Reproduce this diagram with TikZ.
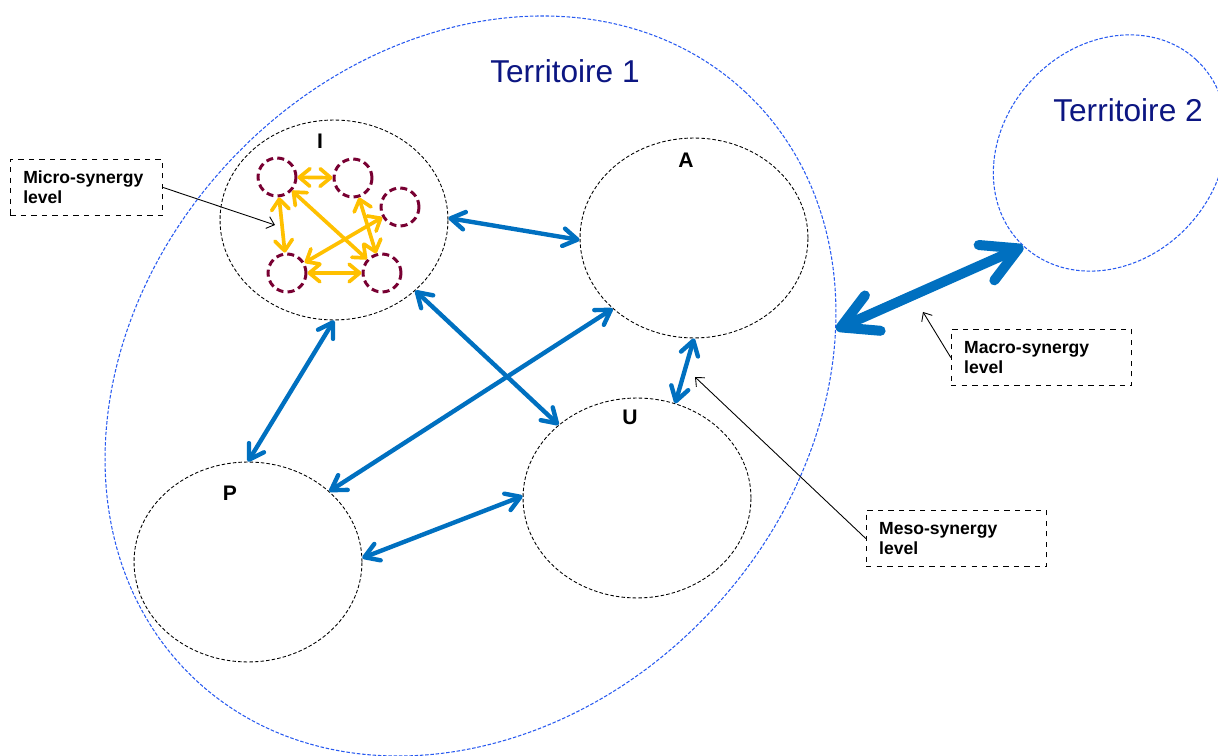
\documentclass[tikz,border=0pt]{standalone}
\usepackage{fontspec}
\setmainfont{Liberation Sans}
\usetikzlibrary{shapes.geometric, arrows.meta, positioning}
\definecolor{terrblue}{RGB}{40,90,240}
\definecolor{terrnavy}{RGB}{12,22,130}
\definecolor{linkblue}{RGB}{0,112,192}
\definecolor{linkgold}{RGB}{255,192,0}
\definecolor{actorred}{RGB}{120,0,50}

\begin{document}
\begin{tikzpicture}[
  x=0.02cm, y=-0.02cm,
  territory/.style={ellipse, draw=terrblue, line width=0.6pt, dash pattern=on 2pt off 1pt, inner sep=0pt},
  terrlabel/.style={font=\fontsize{18}{20}\selectfont, text=terrnavy},
  sector/.style={ellipse, draw=black, line width=0.5pt, dash pattern=on 2pt off 1.2pt, minimum width=4.56cm, minimum height=4cm, inner sep=0pt},
  sectorlabel/.style={font=\fontsize{12}{14}\selectfont\bfseries},
  actor/.style={circle, draw=actorred, line width=1.7pt, dash pattern=on 4pt off 2.4pt, minimum size=0.76cm, inner sep=0pt},
  microlink/.style={draw=linkgold, line width=2.1pt, >={Straight Barb[length=6pt,width=10pt,round]}, <->},
  mesolink/.style={draw=linkblue, line width=2.5pt, >={Straight Barb[length=8pt,width=10pt,round]}, <->},
  macrolink/.style={draw=linkblue, line width=5.7pt, >={Straight Barb[length=20pt,width=22pt,round]}, <->},
  levelbox/.style={draw, dashed, line width=0.5pt, align=left, inner xsep=7.4pt, minimum height=32pt, font=\fontsize{10}{11.5}\selectfont\bfseries},
  pointer/.style={draw, line width=0.5pt, -{Straight Barb[length=4pt,width=7pt]}}
]
\useasboundingbox (0,0) rectangle (1218,756);
\clip (0,0) rectangle (1218,756);

% Territories
\node[territory, minimum width=16.1cm, minimum height=13.18cm, rotate=46.8] (terr1) at (470.5,386) {};
\node[territory, minimum width=5.08cm, minimum height=4.28cm, rotate=47.1] (terr2) at (1110,153) {};
\node[terrlabel] (terr1lab) at (565,71) {Territoire 1};
\node[terrlabel] (terr2lab) at (1128,110) {Territoire 2};

% Sectors I, A, U, P
\node[sector] (I) at (334,220) {};
\node[sector] (A) at (694,238) {};
\node[sector] (U) at (637,498) {};
\node[sector] (P) at (248,562) {};
\node[sectorlabel] (Ilab) at (320,141) {I};
\node[sectorlabel] (Alab) at (686,160) {A};
\node[sectorlabel] (Ulab) at (630,417) {U};
\node[sectorlabel] (Plab) at (230,493) {P};

% Actors inside I
\foreach \n/\x/\y in {c1/277/177, c2/353/178, c3/400/207, c4/287/273, c5/382/273} {
  \node[actor] (\n) at (\x,\y) {};
}

% Micro-synergy links
\foreach \a/\b in {c1/c2, c1/c4, c1/c5, c2/c5, c3/c4, c4/c5} {
  \draw[microlink] (\a) -- (\b);
}

% Meso-synergy links
\draw[mesolink] (I.1) -- (A.181);
\draw[mesolink] (I.270) -- (P.90);
\draw[mesolink] (I.319) -- (U.137);
\draw[mesolink] (A.221) -- (P.41);
\draw[mesolink] (A.270) -- (U.68);
\draw[mesolink] (U.179) -- (P.2);

% Macro-synergy link
\draw[macrolink] (terr1.-38.4) -- (terr2.180);

% Level boxes
\node[levelbox, text width=72pt] (micro) at (86.5,187.5) {Micro-synergy\\level};
\node[levelbox, text width=88pt] (macro) at (1041.5,357.5) {Macro-synergy\\level};
\node[levelbox, text width=88pt] (meso) at (956.5,538.5) {Meso-synergy\\level};

\coordinate (microtip) at (275,225);
\coordinate (macrotip) at (923,312);
\coordinate (mesotip) at (695,377);
\draw[pointer] (micro.east) -- (microtip);
\draw[pointer] (macro.west) -- (macrotip);
\draw[pointer] (meso.west) -- (mesotip);

\end{tikzpicture}
\end{document}
